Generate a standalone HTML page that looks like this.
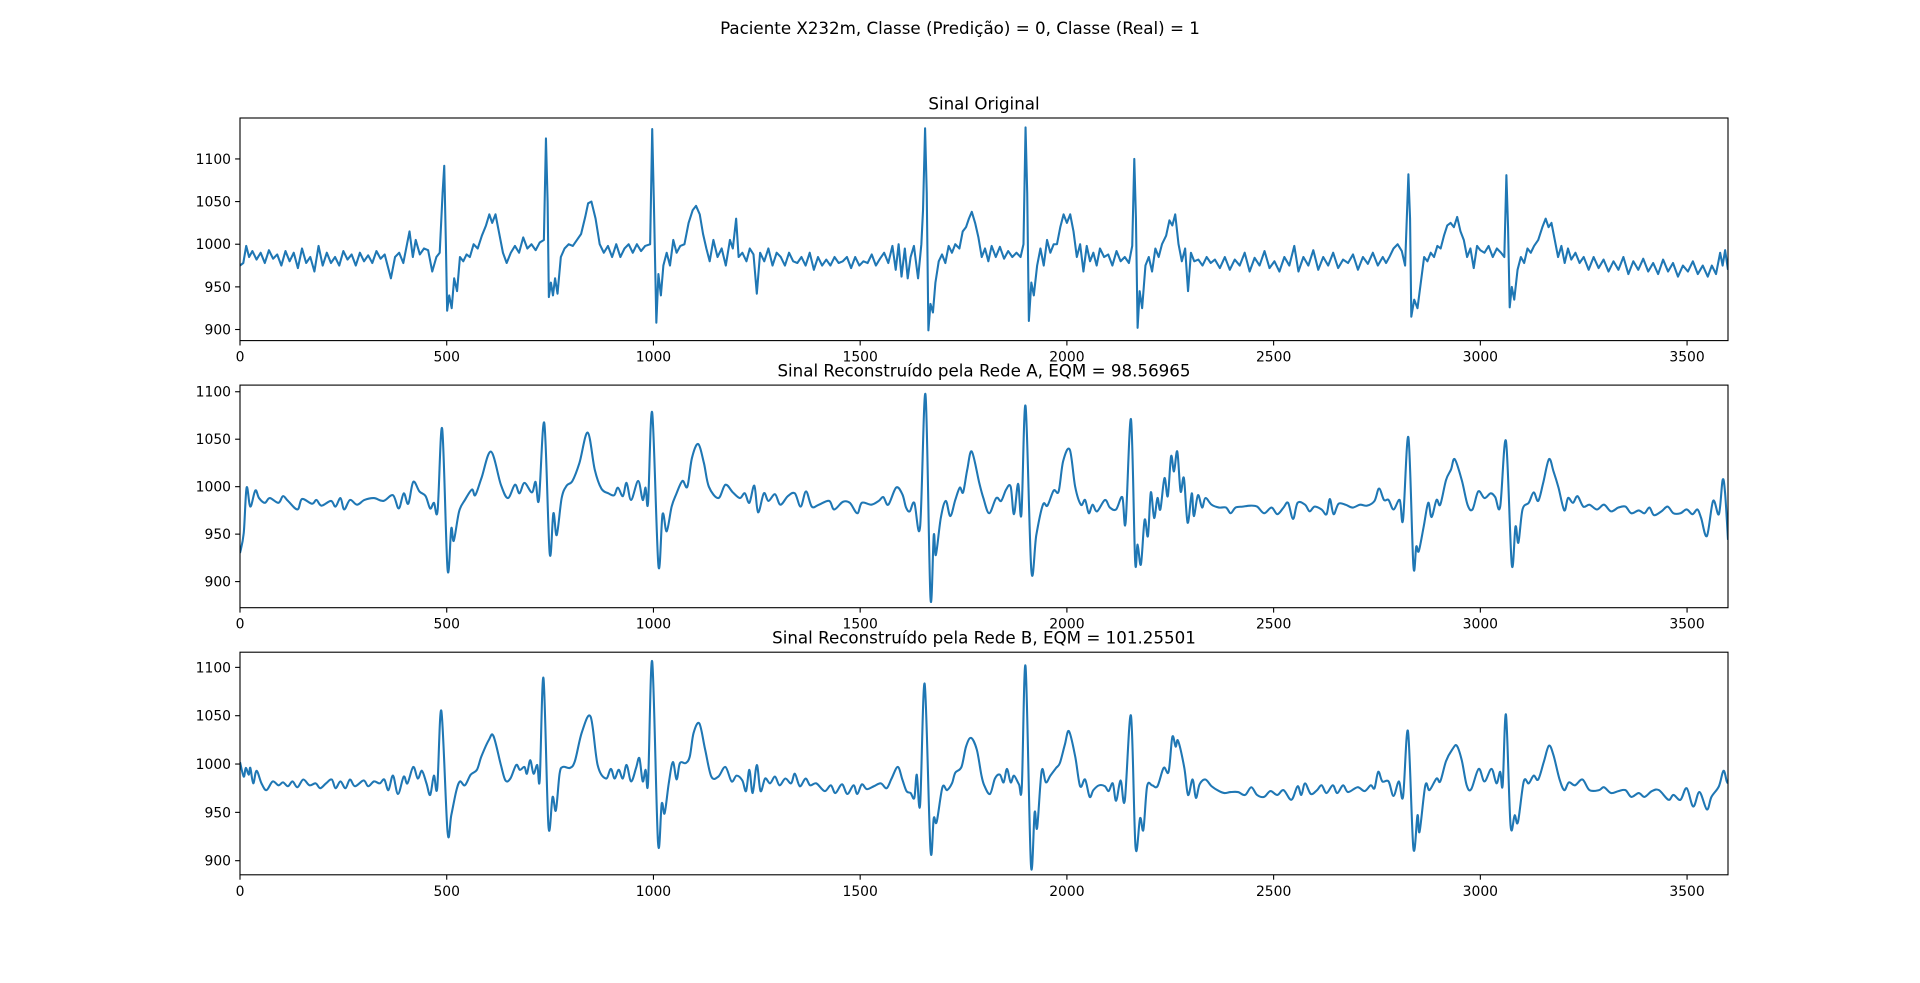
<!DOCTYPE html>
<html><head><meta charset="utf-8"><style>
html,body{margin:0;padding:0;background:#fff;}
svg{display:block;font-family:"DejaVu Sans","Liberation Sans",sans-serif;}
</style></head><body>
<svg id="fig" width="1920" height="983" viewBox="0 0 1920 983" xmlns="http://www.w3.org/2000/svg">
<rect width="1920" height="983" fill="#fff"/>
<text x="960" y="34" text-anchor="middle" font-size="16.7">Paciente X232m, Classe (Predição) = 0, Classe (Real) = 1</text>
</svg>
<script>
const xTicks=[0,500,1000,1500,2000,2500,3000,3500];
const yTicks=[900,950,1000,1050,1100];
const titles=["Sinal Original","Sinal Reconstruído pela Rede A, EQM = 98.56965","Sinal Reconstruído pela Rede B, EQM = 101.25501"];
const yLims=[[887,1148],[872.5,1107],[885.4,1115.7]];
const origX=[0,8,15,22,30,40,50,60,70,80,90,100,110,120,130,140,150,160,170,180,190,200,210,220,230,240,250,260,270,280,290,300,310,320,330,340,350,365,375,385,395,410,418,425,435,445,455,465,475,483,490,494,498,501,506,512,518,525,532,540,548,556,565,575,585,595,603,610,618,626,636,645,655,665,675,685,695,705,715,725,735,740,744,747,752,757,762,768,776,785,795,805,815,825,835,842,850,860,870,880,890,900,910,920,930,940,950,960,970,980,992,997,1001,1007,1012,1018,1024,1032,1040,1048,1056,1065,1075,1085,1095,1103,1112,1120,1128,1136,1145,1155,1165,1175,1185,1192,1200,1206,1215,1225,1233,1242,1250,1258,1268,1278,1288,1298,1308,1318,1328,1338,1348,1358,1368,1378,1388,1398,1408,1418,1428,1438,1448,1458,1468,1478,1488,1498,1508,1518,1528,1538,1548,1558,1568,1578,1586,1593,1600,1608,1615,1622,1630,1640,1648,1652,1657,1661,1665,1670,1676,1682,1690,1698,1706,1714,1722,1730,1740,1748,1756,1763,1770,1778,1786,1794,1802,1810,1818,1828,1838,1848,1858,1868,1878,1888,1895,1900,1904,1908,1914,1920,1928,1936,1944,1952,1960,1968,1976,1984,1992,2000,2008,2016,2024,2032,2040,2048,2056,2064,2072,2080,2090,2100,2110,2120,2130,2140,2150,2158,2163,2167,2171,2176,2182,2190,2198,2206,2214,2222,2230,2240,2248,2255,2262,2270,2278,2286,2293,2300,2308,2318,2328,2338,2348,2358,2370,2382,2394,2406,2418,2430,2442,2454,2466,2478,2490,2502,2514,2526,2538,2550,2560,2572,2584,2596,2608,2620,2632,2644,2656,2668,2680,2692,2704,2716,2728,2740,2752,2764,2772,2780,2790,2800,2810,2818,2826,2830,2833,2840,2848,2856,2864,2872,2880,2888,2896,2904,2912,2920,2928,2936,2944,2952,2960,2968,2976,2984,2992,3000,3010,3020,3030,3040,3050,3058,3063,3067,3071,3076,3082,3090,3098,3106,3114,3122,3130,3140,3150,3158,3165,3172,3180,3188,3196,3204,3212,3220,3230,3240,3250,3262,3274,3286,3298,3310,3322,3334,3346,3358,3370,3382,3394,3406,3418,3430,3442,3454,3466,3478,3490,3502,3514,3526,3538,3550,3560,3570,3580,3586,3592,3599];
const origY=[975,978,998,985,992,982,990,978,993,983,988,975,992,980,990,972,995,978,985,968,998,975,990,978,985,975,992,982,988,975,990,980,987,978,992,983,988,960,985,990,978,1015,985,1005,988,995,993,968,985,990,1060,1092,1000,922,940,925,960,945,985,980,988,985,1000,995,1010,1022,1035,1025,1035,1015,990,978,990,998,990,1008,995,1000,993,1002,1005,1124,1050,938,955,940,960,942,985,995,1000,998,1005,1012,1032,1048,1050,1030,1000,990,998,985,1000,985,995,1000,990,1000,992,998,1000,1135,1050,908,965,940,975,990,975,1005,990,998,1000,1025,1040,1045,1035,1012,995,980,1005,985,995,975,1005,995,1030,985,990,980,995,988,942,990,980,995,975,990,985,975,990,980,978,985,975,990,970,985,975,982,975,985,978,980,985,972,985,975,980,978,988,975,983,990,978,998,970,1000,962,995,960,985,998,960,1000,1040,1136,1060,899,930,920,955,980,988,978,998,990,1000,995,1015,1020,1030,1038,1025,1008,985,995,980,998,985,997,983,992,985,990,985,1000,1137,1060,910,955,940,975,995,975,1005,990,1000,1000,1020,1035,1025,1035,1015,985,1000,968,998,980,990,975,995,985,988,975,992,980,985,978,998,1100,1030,902,945,925,975,985,968,995,985,1000,1010,1028,1022,1035,1000,980,995,945,990,980,982,975,985,978,982,972,985,970,982,975,990,968,984,975,992,972,980,968,985,975,998,968,985,975,993,970,985,975,990,972,982,978,988,970,985,977,990,975,985,978,985,995,1000,992,975,1082,1030,915,935,925,955,985,980,990,985,998,995,1010,1022,1025,1020,1032,1015,1005,985,995,972,998,993,990,998,985,995,990,985,1081,1020,926,950,935,970,985,978,995,990,998,1005,1020,1030,1020,1025,1005,985,998,978,995,982,990,978,985,970,985,972,982,968,980,970,985,965,980,970,983,968,978,965,982,968,978,962,975,968,980,965,975,962,975,965,990,975,993,970];
const aX=[0,9,16,25,37,46,60,72,93,104,116,139,150,174,185,197,220,231,243,252,266,283,301,324,347,370,384,396,407,419,434,449,460,469,478,489,502,511,517,530,544,561,569,584,607,631,648,665,676,688,706,715,723,736,749,758,766,778,790,804,821,841,858,874,891,905,914,926,935,946,963,974,981,987,997,1012,1022,1032,1044,1055,1070,1082,1093,1108,1122,1134,1157,1174,1192,1209,1221,1232,1244,1253,1267,1278,1294,1307,1325,1342,1356,1369,1383,1400,1425,1437,1458,1475,1493,1504,1527,1545,1556,1568,1587,1602,1611,1620,1631,1645,1658,1670,1678,1683,1695,1707,1718,1730,1741,1749,1759,1770,1788,1798,1812,1829,1841,1853,1864,1872,1882,1890,1900,1914,1926,1942,1953,1968,1980,1991,2007,2020,2034,2044,2053,2062,2073,2092,2104,2119,2134,2142,2155,2165,2171,2179,2188,2196,2203,2211,2219,2226,2236,2244,2252,2259,2267,2275,2283,2292,2302,2307,2317,2327,2335,2350,2368,2385,2396,2408,2425,2443,2460,2477,2495,2509,2524,2535,2547,2558,2576,2587,2599,2616,2628,2636,2645,2657,2674,2691,2709,2726,2744,2755,2767,2778,2790,2805,2813,2826,2838,2845,2851,2863,2874,2882,2894,2903,2917,2929,2938,2955,2969,2981,2995,3010,3025,3036,3048,3062,3076,3085,3092,3102,3117,3129,3140,3152,3166,3177,3189,3203,3212,3224,3235,3249,3264,3282,3299,3316,3334,3351,3365,3383,3397,3409,3420,3438,3453,3467,3484,3499,3513,3525,3534,3548,3563,3577,3586,3592,3599];
const aY=[930,951,999,979,996,988,983,988,983,990,985,976,987,982,986,980,985,979,988,976,986,981,986,988,985,991,977,993,982,1005,995,990,977,983,975,1061,913,956,943,974,986,997,991,1009,1037,1002,988,1002,993,1004,994,1005,986,1067,930,972,949,988,1001,1006,1025,1057,1018,998,993,991,999,990,1004,986,1006,986,999,983,1078,917,971,953,979,992,1006,1000,1030,1045,1025,1000,988,1002,994,988,993,983,1001,973,993,985,992,981,990,993,979,995,979,981,985,976,984,983,972,983,981,985,989,981,999,992,978,974,983,958,1097,883,949,928,967,985,969,986,999,994,1018,1037,1004,988,972,988,985,997,1000,971,1003,971,1085,912,949,981,980,996,995,1027,1039,1000,981,986,972,981,974,986,978,976,989,962,1071,922,939,918,965,948,994,967,988,976,1009,990,1032,1016,1037,995,1009,962,993,969,991,978,988,981,978,978,972,978,979,980,979,972,978,971,978,983,966,983,981,974,979,976,971,987,971,982,981,978,981,980,985,998,986,986,976,986,965,1052,917,937,932,958,983,968,986,981,1007,1018,1029,1007,981,976,995,988,993,989,979,1048,918,958,941,976,983,994,985,1004,1029,1016,999,975,988,983,990,979,981,976,981,974,978,979,972,975,972,978,970,974,979,972,972,976,971,976,967,948,985,971,1007,993,944];
const bX=[0,9,14,21,25,32,40,52,64,79,93,104,116,127,139,153,168,183,194,208,222,231,243,255,266,278,299,310,324,338,349,359,370,382,396,405,419,430,440,451,460,469,477,487,502,511,523,532,544,558,573,584,602,613,631,642,654,668,677,688,694,702,710,719,725,734,746,756,764,773,781,798,810,827,848,865,885,897,906,916,926,935,946,958,966,974,981,987,997,1011,1020,1027,1037,1047,1056,1064,1078,1088,1097,1111,1125,1140,1157,1174,1189,1201,1215,1224,1232,1240,1250,1259,1270,1282,1294,1305,1319,1333,1342,1354,1368,1379,1394,1414,1429,1440,1456,1469,1484,1493,1504,1516,1533,1550,1564,1576,1591,1602,1612,1622,1631,1637,1645,1656,1670,1678,1685,1699,1710,1722,1730,1745,1756,1768,1782,1793,1800,1814,1826,1838,1847,1855,1864,1872,1884,1891,1900,1913,1922,1928,1939,1949,1960,1974,1983,1995,2005,2020,2032,2044,2055,2064,2078,2092,2101,2111,2119,2130,2140,2155,2166,2177,2185,2194,2206,2219,2234,2246,2255,2263,2269,2284,2293,2304,2312,2321,2335,2350,2368,2381,2396,2414,2431,2446,2460,2477,2492,2509,2524,2543,2558,2567,2576,2590,2605,2616,2628,2643,2654,2668,2680,2703,2720,2735,2744,2753,2763,2778,2790,2803,2813,2825,2838,2848,2853,2867,2877,2894,2903,2917,2932,2943,2955,2967,2978,2996,3010,3027,3039,3048,3054,3062,3073,3083,3091,3105,3117,3129,3140,3154,3166,3177,3191,3203,3214,3229,3247,3264,3287,3299,3316,3334,3351,3365,3383,3397,3415,3432,3455,3467,3484,3499,3515,3530,3548,3559,3577,3588,3596,3599];
const bY=[1002,987,996,989,996,980,993,980,973,982,978,981,977,982,976,984,978,980,975,980,984,975,982,975,984,977,983,977,982,980,984,973,988,969,987,980,997,985,993,980,968,988,975,1055,930,947,972,982,978,989,994,1008,1025,1029,999,983,985,999,994,997,990,1004,990,999,984,1089,936,966,952,990,997,996,1003,1033,1049,999,985,995,985,994,985,999,982,996,1006,982,994,981,1106,919,959,949,980,1002,984,1001,1001,1008,1032,1042,1015,987,987,997,982,988,983,972,994,970,999,972,985,980,987,978,985,980,990,977,985,978,980,972,978,970,979,969,978,969,979,974,977,980,975,985,997,984,972,970,965,989,958,1083,912,944,940,976,973,980,991,997,1018,1027,1015,989,978,969,985,989,981,995,981,988,979,977,1101,896,950,934,993,981,988,996,1001,1020,1034,1008,977,984,966,973,978,977,972,980,962,983,962,1050,914,944,932,977,978,977,996,992,1028,1018,1024,996,968,984,965,979,984,977,972,970,971,971,968,976,968,966,972,968,973,963,977,968,980,969,973,978,970,978,970,978,971,976,972,978,975,992,982,982,967,982,966,1034,913,947,930,978,973,985,982,1003,1015,1019,1004,978,974,995,982,995,980,992,978,1051,937,947,940,982,980,988,984,1003,1019,1009,985,973,981,978,984,973,973,976,970,972,973,966,970,966,972,973,963,968,963,975,956,971,953,966,977,993,982,980];
const seriesX=[origX,aX,bX];
const seriesY=[origY,aY,bY];
const smoothFlags=[false,true,true];

const NS="http://www.w3.org/2000/svg";
const svg=document.getElementById('fig');
const L=240,R=1728,W=R-L;
const tops=[118,385.1,652.2],H=222.6;
function mk(tag,attrs,parent){const e=document.createElementNS(NS,tag);for(const k in attrs)e.setAttribute(k,attrs[k]);(parent||svg).appendChild(e);return e;}
for(let p=0;p<3;p++){
  const T=tops[p],B=T+H,[y0,y1]=yLims[p];
  const xs=v=>L+v/3599*W;
  const ys=v=>B-(v-y0)/(y1-y0)*H;
  const g=mk('g',{});
  
  
  const t=mk('text',{x:(L+R)/2,y:T-8.5,'text-anchor':'middle','font-size':16.7},g);
  
  
  t.textContent=titles[p];
  const X=seriesX[p],Y=seriesY[p];
  const P=X.map((v,i)=>[xs(v),ys(Y[i])]);
  let d='M'+P[0][0].toFixed(2)+' '+P[0][1].toFixed(2);
  for(let i=1;i<P.length;i++){
    if(smoothFlags[p]){
      const p0=P[Math.max(0,i-2)],p1=P[i-1],p2=P[i],p3=P[Math.min(P.length-1,i+1)];
      const c1x=p1[0]+(p2[0]-p0[0])/6,c1y=p1[1]+(p2[1]-p0[1])/6;
      const c2x=p2[0]-(p3[0]-p1[0])/6,c2y=p2[1]-(p3[1]-p1[1])/6;
      d+='C'+c1x.toFixed(2)+' '+c1y.toFixed(2)+' '+c2x.toFixed(2)+' '+c2y.toFixed(2)+' '+p2[0].toFixed(2)+' '+p2[1].toFixed(2);
    } else d+='L'+P[i][0].toFixed(2)+' '+P[i][1].toFixed(2);
  }
  const cp=mk('clipPath',{id:'c'+p},g);mk('rect',{x:L,y:T,width:W,height:H},cp);
  const path=mk('path',{d:d,fill:'none',stroke:'#1f77b4','stroke-width':2.08,'stroke-linejoin':'round','clip-path':'url(#c'+p+')'},g);
  
  
  const fr=mk('rect',{x:L,y:T,width:W,height:H,fill:'none',stroke:'#000','stroke-width':1.1},g);
  
  
  xTicks.forEach(v=>{const x=xs(v);mk('line',{x1:x,x2:x,y1:B,y2:B+4.9,stroke:'#000','stroke-width':1.1},g);
    const tl=mk('text',{x:x,y:B+21,'text-anchor':'middle','font-size':13.9},g);
    
    
    tl.textContent=v;});
  yTicks.forEach(v=>{const y=ys(v);mk('line',{x1:L-4.9,x2:L,y1:y,y2:y,stroke:'#000','stroke-width':1.1},g);
    const tl=mk('text',{x:L-9,y:y+5,'text-anchor':'end','font-size':13.9},g);
    
    
    tl.textContent=v;});
}
</script>
</body></html>
